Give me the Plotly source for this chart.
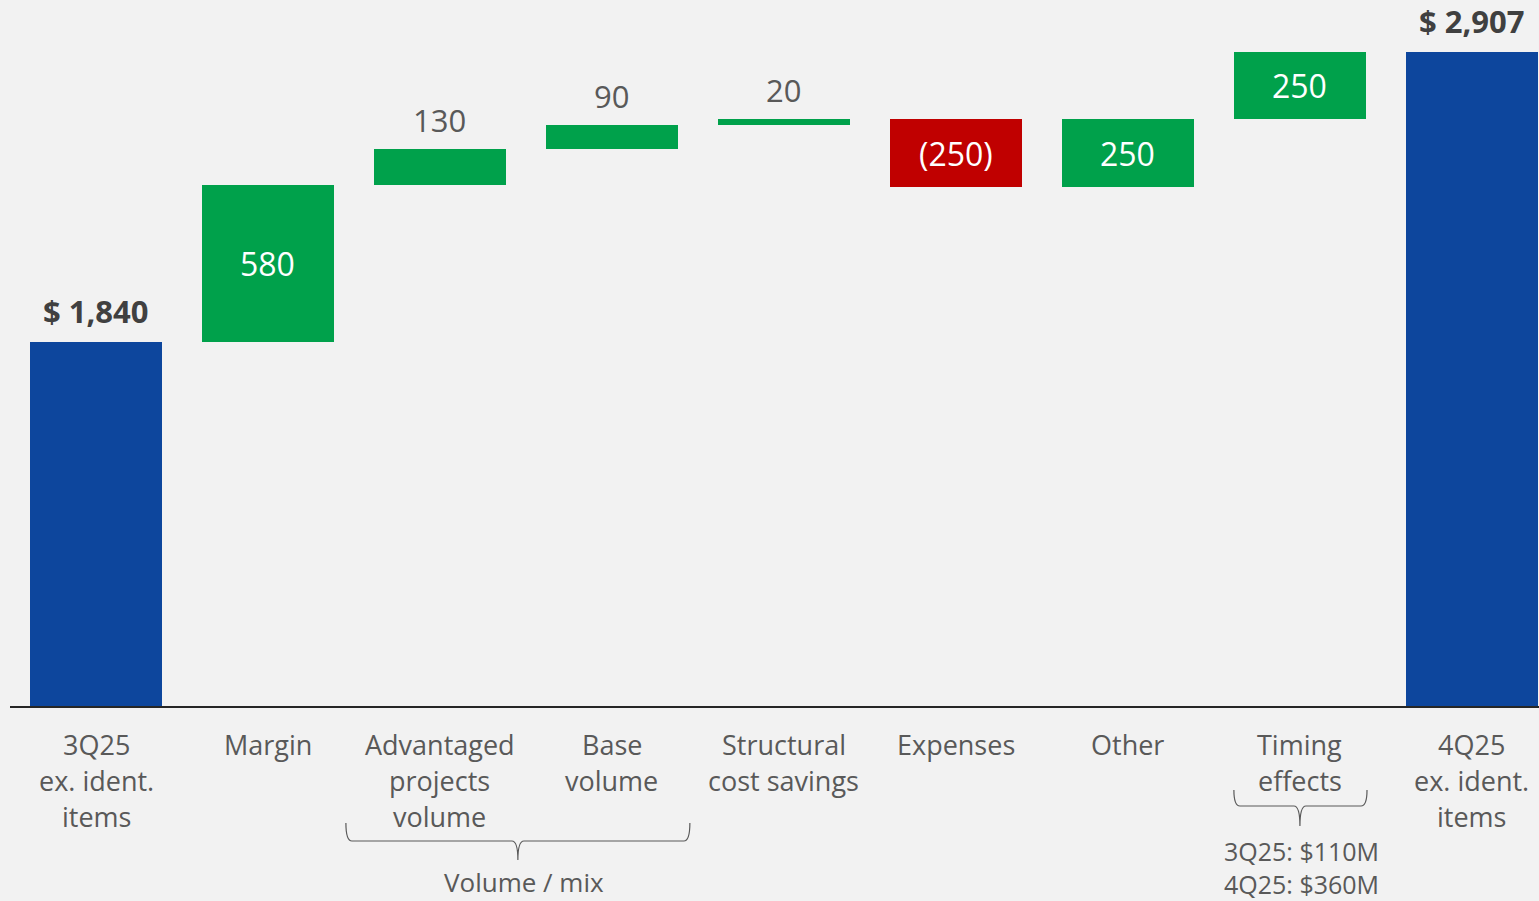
import plotly.graph_objects as go

# ---- data ----
categories = ["3Q25<br>ex. ident.<br>items", "Margin", "Advantaged<br>projects<br>volume",
              "Base<br>volume", "Structural<br>cost savings", "Expenses", "Other",
              "Timing<br>effects", "4Q25<br>ex. ident.<br>items"]
start_total = 1840
changes = [580, 130, 90, 20, -250, 250, 250]
end_total = 2907
timing_notes = ["3Q25: $110M", "4Q25: $360M"]
volume_group_label = "Volume / mix"

# ---- styling ----
BG = "#F2F2F2"
BLUE = "#0D469D"
GREEN = "#00A14B"
RED = "#C00000"
TXT = "#595959"
TXT_DARK = "#404040"
FONT = "Open Sans"
Y_MIN, Y_MAX = 500, 3100
PLOT_H = 706          # pixel height of plotting area
BAR_W = 0.767

# build waterfall pieces
xs, bases, heights, colors = [], [], [], []
xs.append(0); bases.append(Y_MIN); heights.append(start_total - Y_MIN); colors.append(BLUE)
running = start_total
for i, c in enumerate(changes, start=1):
    lo = running if c >= 0 else running + c
    xs.append(i); bases.append(lo); heights.append(abs(c))
    colors.append(GREEN if c >= 0 else RED)
    running += c
n = len(categories)
xs.append(n - 1); bases.append(Y_MIN); heights.append(end_total - Y_MIN); colors.append(BLUE)

fig = go.Figure(go.Bar(x=xs, y=heights, base=bases, width=BAR_W,
                       marker=dict(color=colors, line=dict(width=0)),
                       hoverinfo="skip"))

ann = []
# totals labels above blue bars
for xi, v in [(0, start_total), (n - 1, end_total)]:
    ann.append(dict(x=xi, y=v, xref="x", yref="y", text=f"<b>$ {v:,}</b>",
                    showarrow=False, yshift=31, yanchor="middle",
                    font=dict(family=FONT, size=31, color=TXT_DARK)))
# change labels: inside for tall bars, above for short ones
running = start_total
for i, c in enumerate(changes, start=1):
    lo = running if c >= 0 else running + c
    hi = lo + abs(c)
    label = f"{c}" if c >= 0 else f"({abs(c)})"
    if abs(c) >= 200:
        ann.append(dict(x=i, y=(lo + hi) / 2, xref="x", yref="y", text=label,
                        showarrow=False, yanchor="middle",
                        font=dict(family=FONT, size=32, color="white")))
    else:
        ann.append(dict(x=i, y=hi, xref="x", yref="y", text=label,
                        showarrow=False, yshift=29, yanchor="middle",
                        font=dict(family=FONT, size=31, color=TXT)))
    running += c

# category labels, one line at a time
LINE_GAP = 36
for i, cat in enumerate(categories):
    for k, line in enumerate(cat.split("<br>")):
        ann.append(dict(x=i, y=0, xref="x", yref="paper", text=line, showarrow=False,
                        yanchor="middle", yshift=-38 - LINE_GAP * k,
                        font=dict(family=FONT, size=27, color=TXT)))


def py(px_below):
    """paper y for a pixel distance below the x axis"""
    return -px_below / PLOT_H


def brace(x0, x1, xc, top, mid, bottom, r=0.035):
    return (f"M {x0},{py(top)} Q {x0},{py(mid)} {x0 + r},{py(mid)} "
            f"L {xc - r},{py(mid)} Q {xc},{py(mid)} {xc},{py(bottom)} "
            f"M {xc},{py(bottom)} Q {xc},{py(mid)} {xc + r},{py(mid)} "
            f"L {x1 - r},{py(mid)} Q {x1},{py(mid)} {x1},{py(top)}")


shapes = []
# Volume / mix brace spanning the two volume categories
shapes.append(dict(type="path", xref="x", yref="paper",
                   path=brace(2 - 0.547, 3 + 0.453, 2.453, 117, 135, 154),
                   line=dict(color="#595959", width=1.2)))
ann.append(dict(x=2.488, y=0, xref="x", yref="paper", text=volume_group_label,
                showarrow=False, yanchor="middle", yshift=-176, borderpad=0,
                font=dict(family=FONT, size=26, color=TXT)))
# Timing brace
shapes.append(dict(type="path", xref="x", yref="paper",
                   path=brace(7 - 0.384, 7 + 0.390, 7.0, 84, 100, 120),
                   line=dict(color="#595959", width=1.2)))
for k, t in enumerate(timing_notes):
    ann.append(dict(x=7.01, y=0, xref="x", yref="paper", text=t, showarrow=False,
                    yanchor="middle", yshift=-145 - 33 * k, borderpad=0,
                    font=dict(family=FONT, size=25, color=TXT)))

fig.update_layout(
    width=1539, height=901,
    margin=dict(l=10, r=0, t=0, b=901 - PLOT_H),
    paper_bgcolor=BG, plot_bgcolor=BG,
    showlegend=False, bargap=0,
    xaxis=dict(range=[-0.5, 8.39], showticklabels=False, showgrid=False, zeroline=False,
               showline=True, linecolor="#262626", linewidth=2, ticks=""),
    yaxis=dict(range=[Y_MIN, Y_MAX], visible=False, showgrid=False, zeroline=False),
    annotations=ann, shapes=shapes,
)

fig.write_html("out.html")
